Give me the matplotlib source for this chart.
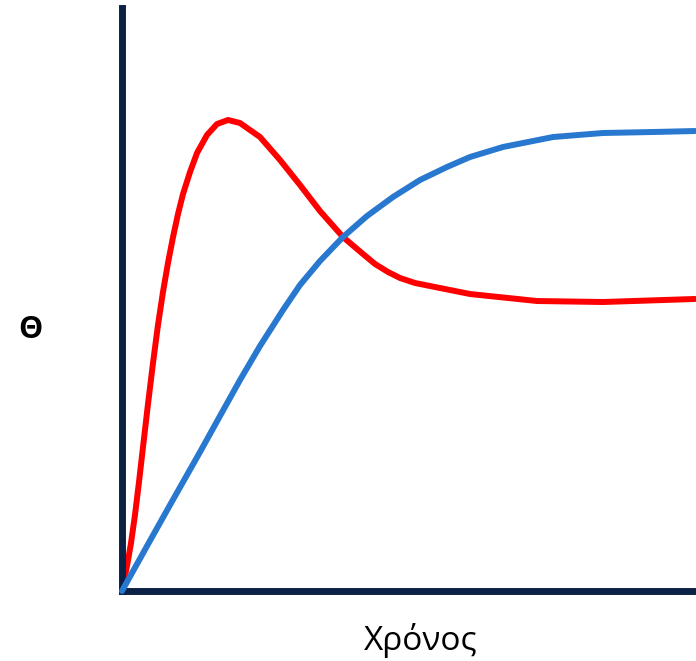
import numpy as np
import matplotlib
matplotlib.use('Agg')
import matplotlib.pyplot as plt

# values (time vs theta, arbitrary units 0-100)
red_t = [0, 0.87, 1.57, 2.26, 2.96, 3.66, 4.53, 5.40, 6.27, 7.14, 8.01, 8.89,
         9.76, 10.63, 11.85, 13.07, 14.81, 16.55, 18.47, 20.56, 22.30, 24.04,
         27.53, 31.01, 34.49, 38.50, 41.99, 44.08, 46.34, 48.43, 51.05, 55.40,
         60.63, 72.30, 83.80, 99.83]
red_y = [0, 4.29, 8.23, 13.04, 18.70, 24.70, 32.08, 39.11, 45.63, 51.29, 56.26, 60.72,
         64.67, 68.10, 71.87, 75.13, 78.22, 80.10, 80.79, 80.27, 79.07, 77.87,
         73.93, 69.64, 65.18, 60.72, 57.80, 56.09, 54.72, 53.69, 52.83, 51.97,
         50.94, 49.74, 49.57, 50.09]

blue_t = [0, 4.36, 8.36, 13.59, 17.07, 20.56, 24.04, 28.05, 31.01, 34.49, 38.50,
          42.68, 47.21, 51.92, 56.62, 60.63, 66.38, 75.09, 83.80, 92.51, 99.83]
blue_y = [0, 7.72, 14.75, 23.84, 30.02, 36.19, 42.02, 48.20, 52.49, 56.60, 60.72,
          64.32, 67.58, 70.50, 72.73, 74.44, 76.16, 77.87, 78.56, 78.73, 78.90]

x_label = 'Χρόνος'
y_label = 'Θ'

plt.rcParams['font.family'] = ['Open Sans', 'DejaVu Sans']

fig = plt.figure(figsize=(6.96, 6.61), dpi=100)
ax = fig.add_axes([122/696, 70/661, 574/696, 583/661])

ax.plot(blue_t, blue_y, color='#2878D0', lw=4.3, solid_joinstyle='round',
        solid_capstyle='round', clip_on=False, zorder=3)
ax.plot(red_t, red_y, color='#FF0000', lw=4.3, solid_joinstyle='round',
        solid_capstyle='round', clip_on=False, zorder=2)

ax.set_xlim(0, 100)
ax.set_ylim(0, 100)
ax.set_xticks([])
ax.set_yticks([])
for s in ['top', 'right']:
    ax.spines[s].set_visible(False)
for s in ['left', 'bottom']:
    ax.spines[s].set_color('#0C2146')
    ax.spines[s].set_linewidth(5)
    ax.spines[s].set_capstyle('projecting')

fig.text(30/696, 1 - 330/661, y_label, ha='center', va='center',
         fontsize=22, fontweight='bold')
fig.text(421/696, 1 - 641/661, x_label, ha='center', va='center', fontsize=24)

fig.savefig('out.png', dpi=100)
